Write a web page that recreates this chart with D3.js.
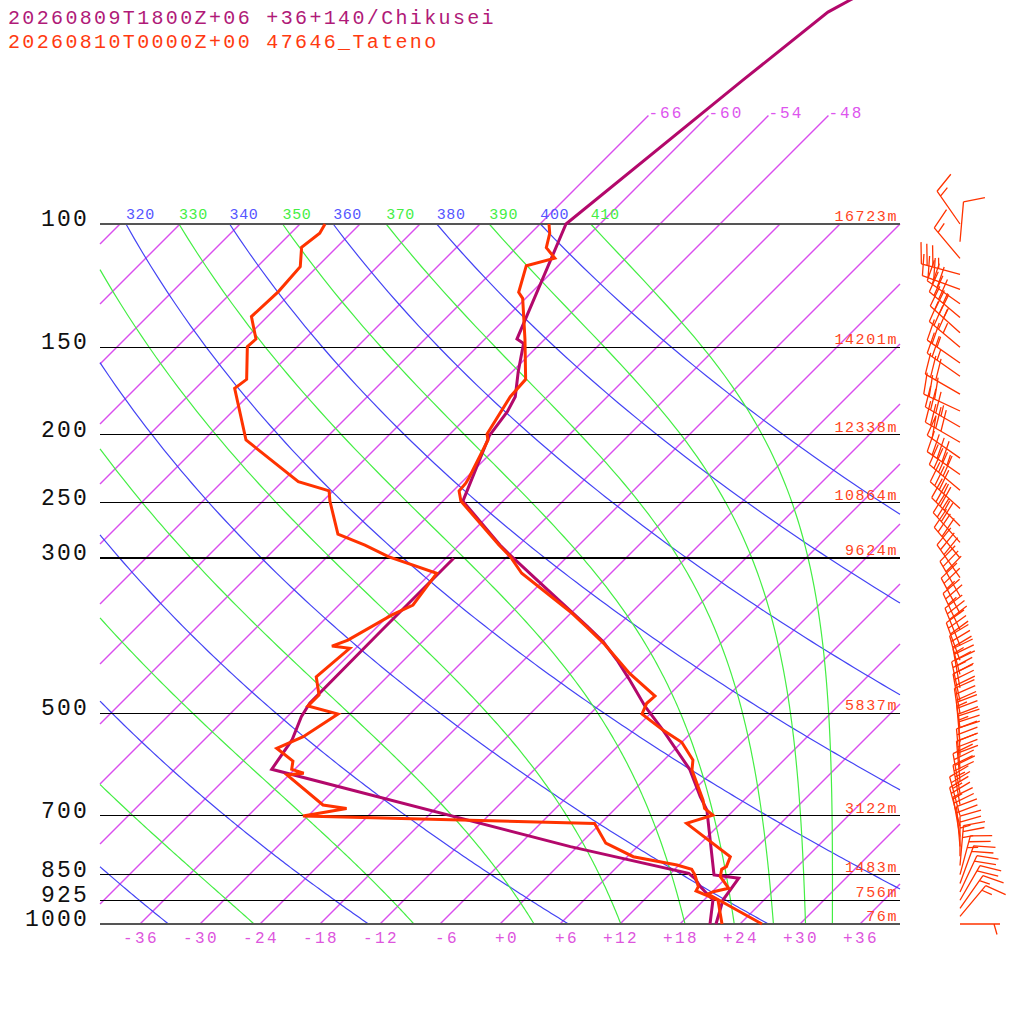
<!DOCTYPE html>
<html>
<head>
<meta charset="utf-8">
<script src="https://cdn.jsdelivr.net/npm/d3@7"></script>
<style>
body { margin: 0; background: #fff; }
text { font-family: "Liberation Mono", "DejaVu Sans Mono", monospace; }
</style>
</head>
<body>
<div id="chart"></div>
<script>
// ---- data ----
const titles = ["20260809T1800Z+06 +36+140/Chikusei", "20260810T0000Z+00 47646_Tateno"];

const pressureLevels = [100, 150, 200, 250, 300, 500, 700, 850, 925, 1000];
const heightLabels = ["16723m", "14201m", "12338m", "10864m", "9624m", "5837m", "3122m", "1483m", "756m", "76m"];

const tempTicks = [-36, -30, -24, -18, -12, -6, 0, 6, 12, 18, 24, 30, 36];
const isotherms = [-108, -102, -96, -90, -84, -78, -72, -66, -60, -54, -48, -42, -36, -30, -24, -18, -12, -6, 0, 6, 12, 18, 24, 30, 36];
const topIsotherms = [-66, -60, -54, -48];
const dryThetas = [240, 260, 280, 300, 320, 340, 360, 380, 400];
const moistThetaEs = [250, 270, 290, 310, 330, 350, 370, 390, 410];

// forecast (Chikusei) temperature / dewpoint
const fcTempP = [44.8, 47.9, 49.8, 62.3, 100, 146, 148.1, 162.6, 176.5, 185.4, 200.6, 248.8, 287.5, 295.1, 319, 358, 375.2, 395.2, 419.7, 445.7, 489.3, 528.4, 601.2, 658, 687.5, 851.1, 860.3, 924.2, 1000];
const fcTemp = [-55.7, -57.4, -58.4, -60.1, -63.4, -56.8, -55.7, -53.4, -51.2, -50.5, -49.9, -46.0, -37.9, -36.3, -31.4, -24.1, -21.1, -17.9, -14.7, -11.7, -7.2, -3.1, 3.5, 7.3, 9.3, 16.5, 19.3, 19.9, 21.6];
const fcDewP = [300.3, 381.1, 483.8, 505.6, 545.9, 601.2, 775.3, 846.4, 860.3, 884.5, 924.2, 1000];
const fcDew = [-41.2, -41.2, -41.1, -40.6, -39.2, -38.3, -0.7, 13.8, 14.9, 16.3, 18.9, 21.0];

// observed (Tateno) temperature / dewpoint
const obTempP = [100, 103.1, 108.1, 111.9, 114.7, 125.2, 127.7, 146, 166.7, 176.5, 199.5, 203.5, 230.8, 234.6, 240.6, 248.8, 287.5, 298.7, 315.5, 358, 376.1, 397.2, 438.5, 472.4, 483.8, 501.2, 528.4, 550, 583.2, 602.6, 665.1, 683.7, 699, 718.3, 801.4, 828.1, 835.4, 855.8, 889.2, 899.3, 906, 1000];
const obTemp = [-65.1, -64.1, -63.0, -61.1, -63.2, -61.3, -60.3, -56.0, -51.9, -51.7, -50.3, -49.6, -47.7, -47.5, -47.4, -46.2, -38.0, -35.7, -32.9, -24.2, -21.1, -17.7, -12.1, -7.3, -7.4, -6.8, -3.1, 0.0, 2.9, 3.8, 7.9, 8.9, 10.4, 8.6, 16.3, 16.9, 16.7, 17.3, 19.3, 18.1, 17.8, 26.2];
const obDewP = [100, 103.1, 108, 115.1, 124.9, 135.6, 146, 149.7, 166.7, 171.7, 203.5, 233.4, 240.6, 248.8, 277.3, 287.5, 298.7, 315.5, 350.2, 361.8, 393, 400.8, 403.8, 443.4, 470.8, 488.2, 501.2, 540.1, 561, 585.1, 601.2, 609.1, 612.5, 676.1, 683.7, 701.1, 718.3, 766.6, 801.4, 823.6, 835.4, 851.1, 884.5, 897, 924.2, 1000];
const obDew = [-87.5, -87.1, -87.5, -85.7, -85.4, -85.6, -82.9, -83.0, -79.8, -80.1, -73.8, -64.4, -60.4, -59.3, -55.2, -51.4, -47.9, -41.4, -40.6, -41.7, -43.6, -44.6, -42.6, -43.1, -41.0, -41.0, -37.2, -38.4, -39.9, -37.0, -36.3, -34.7, -36.2, -29.6, -26.9, -30.5, -0.6, 2.5, 6.6, 11.8, 13.7, 14.6, 16.1, 16.3, 19.4, 22.2];

// observed winds
const windP = [1000, 975, 950, 925, 900, 875, 850, 825, 800, 775, 750, 725, 700, 675, 650, 625, 600, 575, 550, 525, 500, 480, 460, 440, 420, 400, 380, 360, 340, 320, 300, 285, 270, 255, 240, 228, 216, 205, 195, 185, 175, 165, 158, 150, 143, 136, 130, 124, 118, 112, 106, 100];
const windDir = [90, 40, 35, 30, 25, 20, 15, 5, 0, 355, 350, 345, 345, 350, 350, 355, 355, 358, 355, 352, 350, 348, 350, 345, 340, 338, 335, 332, 330, 325, 320, 318, 315, 312, 310, 305, 305, 300, 300, 295, 300, 305, 305, 310, 312, 310, 305, 290, 285, 320, 5, 325];
const windSpd = [5, 15, 15, 20, 20, 20, 25, 25, 25, 20, 20, 25, 25, 25, 30, 30, 30, 30, 35, 35, 30, 30, 35, 35, 30, 30, 25, 25, 30, 30, 30, 30, 35, 35, 40, 45, 50, 40, 35, 30, 30, 25, 25, 35, 35, 35, 30, 30, 35, 15, 10, 15];

// ---- layout ----
const W = 1024, H = 1024;
const plot = {left: 100, right: 900, top: 224, bottom: 924};
const obsColor = "#ff3300", fcColor = "#b3086b";
const isoColor = "#d94fee", dryColor = "#4444f4", moistColor = "#44ee44";

const svg = d3.select("#chart").append("svg")
    .attr("width", W)
    .attr("height", H);

const y = d3.scaleLog().domain([100, 1000]).range([plot.top, plot.bottom]);
const xT = d3.scaleLinear().domain([-40, 40]).range([plot.left, plot.right]);
const skewX = (t, p) => xT(t) + (plot.bottom - y(p));

const curve = d3.line().x(d => skewX(d.t, d.p)).y(d => y(d.p));
const screenLine = d3.line();

// clip a segment to the plot box (Liang-Barsky)
function clipSeg(a, b) {
    let t0 = 0, t1 = 1;
    const dx = b[0] - a[0], dy = b[1] - a[1];
    const ps = [-dx, dx, -dy, dy];
    const qs = [a[0] - plot.left, plot.right - a[0], a[1] - plot.top, plot.bottom - a[1]];
    for (let i = 0; i < 4; i++) {
        if (ps[i] === 0) {
            if (qs[i] < 0) return null;
        } else {
            const r = qs[i] / ps[i];
            if (ps[i] < 0) { if (r > t1) return null; if (r > t0) t0 = r; }
            else { if (r < t0) return null; if (r < t1) t1 = r; }
        }
    }
    return [[a[0] + t0 * dx, a[1] + t0 * dy], [a[0] + t1 * dx, a[1] + t1 * dy]];
}
// clipped path string for a list of {t, p}
function clippedPath(pts) {
    const xy = pts.map(d => [skewX(d.t, d.p), y(d.p)]);
    const runs = [];
    let run = null;
    for (let i = 1; i < xy.length; i++) {
        const s = clipSeg(xy[i - 1], xy[i]);
        if (!s) { run = null; continue; }
        if (run && Math.abs(run[run.length - 1][0] - s[0][0]) < 1e-6 && Math.abs(run[run.length - 1][1] - s[0][1]) < 1e-6) {
            run.push(s[1]);
        } else {
            run = [s[0], s[1]];
            runs.push(run);
        }
    }
    return runs.map(r => screenLine(r)).join("");
}

// pressure steps for curved lines
const pSteps = d3.range(1000, 99, -5);

// saturated equivalent potential temperature (Bolton 1980)
function thetaESat(t, p) {
    const es = 6.112 * Math.exp(17.67 * t / (t + 243.5));
    const r = 0.622 * es / (p - es);
    const tk = t + 273.15;
    return tk * Math.pow(1000 / p, 0.2854 * (1 - 0.28 * r)) *
        Math.exp((3376 / tk - 2.54) * r * (1 + 0.81 * r));
}
function moistT(thetaE, p) {
    let lo = -140, hi = 60;
    for (let i = 0; i < 50; i++) {
        const mid = (lo + hi) / 2;
        if (thetaESat(mid, p) > thetaE) hi = mid; else lo = mid;
    }
    return (lo + hi) / 2;
}
const dryT = (theta, p) => theta * Math.pow(p / 1000, 0.2857) - 273.15;

// ---- background ----
const bg = svg.append("g");

bg.append("g")
    .selectAll("path")
    .data(isotherms)
    .enter()
    .append("path")
    .attr("d", t => clippedPath([{t: t, p: 1000}, {t: t, p: 100}]))
    .attr("fill", "none")
    .attr("stroke", isoColor)
    .attr("stroke-width", 1.4);

bg.append("g")
    .selectAll("path")
    .data(dryThetas)
    .enter()
    .append("path")
    .attr("d", th => clippedPath(pSteps.map(p => ({t: dryT(th, p), p: p}))))
    .attr("fill", "none")
    .attr("stroke", dryColor)
    .attr("stroke-width", 1.2);

bg.append("g")
    .selectAll("path")
    .data(moistThetaEs)
    .enter()
    .append("path")
    .attr("d", te => clippedPath(pSteps.map(p => ({t: moistT(te, p), p: p}))))
    .attr("fill", "none")
    .attr("stroke", moistColor)
    .attr("stroke-width", 1.2);

// isotherms continued above 100 hPa with labels
bg.append("g")
    .selectAll("path")
    .data(topIsotherms)
    .enter()
    .append("path")
    .attr("d", t => curve([{t: t, p: 100}, {t: t, p: 70}]))
    .attr("fill", "none")
    .attr("stroke", isoColor)
    .attr("stroke-width", 1.4);

svg.append("g")
    .selectAll("text")
    .data(topIsotherms)
    .enter()
    .append("text")
    .attr("x", t => skewX(t, 70))
    .attr("y", y(70) + 2)
    .style("font-size", "16px")
    .style("letter-spacing", "2.1px")
    .attr("fill", "#dd55ee")
    .text(t => t);

// adiabat labels along 100 hPa
const adiabatLabels = dryThetas.map(th => ({v: th, x: skewX(dryT(th, 100), 100), c: "#5555ff"}))
    .concat(moistThetaEs.map(te => ({v: te, x: skewX(moistT(te, 100), 100), c: "#44ee44"})))
    .filter(d => d.x >= plot.left);

svg.append("g")
    .selectAll("text")
    .data(adiabatLabels)
    .enter()
    .append("text")
    .attr("x", d => d.x)
    .attr("y", 219)
    .style("font-size", "15px")
    .style("letter-spacing", "0.6px")
    .attr("fill", d => d.c)
    .text(d => d.v);

// pressure lines
svg.append("g")
    .attr("shape-rendering", "crispEdges")
    .selectAll("line")
    .data(pressureLevels)
    .enter()
    .append("line")
    .attr("x1", plot.left).attr("x2", plot.right)
    .attr("y1", p => y(p)).attr("y2", p => y(p))
    .attr("stroke", p => (p === 100 || p === 1000) ? "#555" : "#000")
    .attr("stroke-width", p => (p === 100 || p === 1000) ? 2 : 1.2);

svg.append("g")
    .selectAll("text")
    .data(pressureLevels)
    .enter()
    .append("text")
    .attr("x", 89)
    .attr("y", p => y(p) + 2)
    .attr("text-anchor", "end")
    .style("font-size", "23px")
    .style("letter-spacing", "2.2px")
    .attr("fill", "#111")
    .text(p => p);

svg.append("g")
    .selectAll("text")
    .data(pressureLevels)
    .enter()
    .append("text")
    .attr("x", 898)
    .attr("y", p => y(p) - 3)
    .attr("text-anchor", "end")
    .style("font-size", "15px")
    .style("letter-spacing", "1.6px")
    .attr("fill", "#ff4422")
    .text((p, i) => heightLabels[i]);

// temperature axis labels
svg.append("g")
    .selectAll("text")
    .data(tempTicks)
    .enter()
    .append("text")
    .attr("x", t => xT(t) + 1)
    .attr("y", 943)
    .attr("text-anchor", "middle")
    .style("font-size", "16px")
    .style("letter-spacing", "2.4px")
    .style("white-space", "pre")
    .attr("fill", "#dd55dd")
    .text(t => {
        const s = (t < 0 ? "-" : "+") + Math.abs(t);
        return s.length < 3 ? " " + s : s;
    });

// ---- profiles ----
const zipLine = (ps, ts) => ps.map((p, i) => ({p: p, t: ts[i]}));
const profiles = [
    {pts: zipLine(fcDewP, fcDew), c: fcColor},
    {pts: zipLine(fcTempP, fcTemp), c: fcColor},
    {pts: zipLine(obDewP, obDew), c: obsColor},
    {pts: zipLine(obTempP, obTemp), c: obsColor}
];

svg.append("g")
    .selectAll("path")
    .data(profiles)
    .enter()
    .append("path")
    .attr("d", d => curve(d.pts))
    .attr("fill", "none")
    .attr("stroke", d => d.c)
    .attr("stroke-width", 3);

// ---- wind barbs ----
const barbX = 960;
function barbPath(p, dir, spd) {
    const r = dir * Math.PI / 180;
    const ux = Math.sin(r), uy = -Math.cos(r);
    const px = -uy, py = ux;
    const x0 = barbX, y0 = y(p);
    const L = 40, F = 21, gap = 6;
    const at = s => [x0 + ux * s, y0 + uy * s];
    let d = `M${x0},${y0}L${at(L)[0]},${at(L)[1]}`;
    let v = Math.round(spd / 5) * 5;
    let pos = L;
    while (v >= 50) {
        const a = at(pos), b = at(pos - gap);
        d += `M${a[0]},${a[1]}L${a[0] + px * F + ux * 4},${a[1] + py * F + uy * 4}L${b[0]},${b[1]}`;
        pos -= gap + 2;
        v -= 50;
    }
    while (v >= 10) {
        const a = at(pos);
        d += `M${a[0]},${a[1]}l${px * F + ux * 6},${py * F + uy * 6}`;
        pos -= gap;
        v -= 10;
    }
    if (v >= 5) {
        if (pos === L) pos -= gap;
        const a = at(pos);
        d += `M${a[0]},${a[1]}l${px * F / 2 + ux * 3},${py * F / 2 + uy * 3}`;
    }
    return d;
}

svg.append("g")
    .selectAll("path")
    .data(windP)
    .enter()
    .append("path")
    .attr("d", (p, i) => barbPath(p, windDir[i], windSpd[i]))
    .attr("fill", "none")
    .attr("stroke", obsColor)
    .attr("stroke-width", 1.3);

// ---- titles ----
svg.append("g")
    .selectAll("text")
    .data(titles)
    .enter()
    .append("text")
    .attr("x", 8)
    .attr("y", (d, i) => 24 + i * 24)
    .style("font-size", "20px")
    .style("letter-spacing", "2.35px")
    .attr("fill", (d, i) => i === 0 ? "#b01a78" : "#ff3a10")
    .text(d => d);
</script>
</body>
</html>
